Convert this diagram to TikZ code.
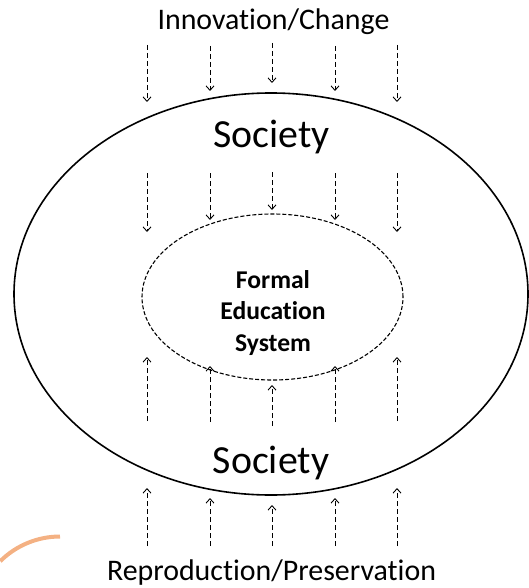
\documentclass[tikz,border=0pt]{standalone}
\usepackage{fontspec}
\setmainfont{Carlito}[Ligatures={NoCommon,NoRequired,NoContextual}, RawFeature={-calt;-dlig}]
\usetikzlibrary{shapes.geometric,arrows.meta}
\definecolor{peach}{HTML}{F4B183}
\begin{document}
\begin{tikzpicture}[x=1bp,y=-1bp,
  flow/.style={draw, line width=0.9bp, dash pattern=on 5bp off 3bp,
    -{Straight Barb[length=4.5bp,width=8bp,line width=0.9bp]}},
  realm/.style={draw, ellipse, line width=1.6bp, inner sep=0pt},
  core/.style={draw, ellipse, line width=1.1bp, dash pattern=on 4bp off 2bp, inner sep=0pt},
  label/.style={inner sep=0pt, anchor=base, font=\fontsize{30}{36}\selectfont},
  bigname/.style={inner sep=0pt, anchor=base, font=\fontsize{40}{48}\selectfont},
  corename/.style={inner sep=0pt, align=center, font=\bfseries\fontsize{25.7}{31.8}\selectfont}
]
\useasboundingbox (0,0) rectangle (529,588);

% society and the school system inside it
\node[realm, minimum width=514bp, minimum height=402bp] (society) at (271,294) {};
\node[core, minimum width=261bp, minimum height=166bp] (school) at (272.5,297) {};
\node[corename] (schoolname) at (273,313) {Formal\\Education\\System};

% texts
\node[label] (innovation) at (273.5,30) {Innovation/Change};
\node[bigname] (societytop) at (271.5,148) {Society};
\node[bigname] (societybottom) at (271,473) {Society};
\node[label] (reproduction) at (271.5,580) {Reproduction/Preservation};

% pressure from above: change flows down
\foreach \i/\x/\a/\b/\c/\d in {1/147/45/102/173/232, 2/210/46/91/173/220, 3/272/43/83/172/210, 4/335/46/91/173/220, 5/397/45/102/173/232}{
  \coordinate (dA\i) at (\x,\a);
  \coordinate (dB\i) at (\x,\b);
  \coordinate (dC\i) at (\x,\c);
  \coordinate (dD\i) at (\x,\d);
  \draw[flow] (dA\i) -- (dB\i);
  \draw[flow] (dC\i) -- (dD\i);
}

% pressure from below: preservation flows up
\foreach \i/\x/\a/\b/\c/\d in {1/147/546/488/421/357, 2/210/546/498/422/366, 3/272/546/505/426/385, 4/335/546/498/422/366, 5/397/546/488/421/357}{
  \coordinate (uA\i) at (\x,\a);
  \coordinate (uB\i) at (\x,\b);
  \coordinate (uC\i) at (\x,\c);
  \coordinate (uD\i) at (\x,\d);
  \draw[flow] (uA\i) -- (uB\i);
  \draw[flow] (uC\i) -- (uD\i);
}

% decorative arc in the corner
\draw[peach, line width=4bp] (0.25,561.2) .. controls (16.1,545.4) and (37.6,536.5) .. (60,536.5);
\end{tikzpicture}
\end{document}
